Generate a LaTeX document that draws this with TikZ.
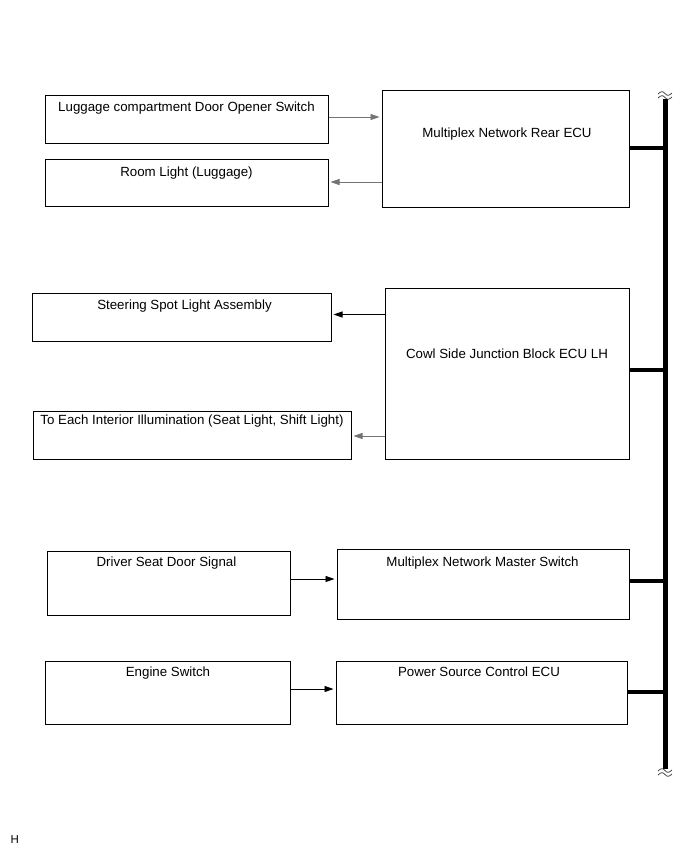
\documentclass[tikz,border=0pt]{standalone}
\usepackage{fontspec}
\setmainfont{Liberation Sans}
\usetikzlibrary{arrows.meta,calc}
\begin{document}
\begin{tikzpicture}[x=1pt,y=-1pt,
  box/.style={draw=black,line width=1pt,inner sep=0pt,fill=white},
  txt/.style={font=\fontsize{13.3}{15}\selectfont,inner sep=0pt,anchor=base},
  arr/.style={draw=black!55,line width=0.9pt,-{Triangle[length=9pt,width=6pt]},shorten >=2pt},
  arrk/.style={arr,draw=black,line width=0.9pt},
  bus/.style={line width=4.2pt,draw=black},
  squig/.style={line width=0.7pt,draw=black!80}]
\useasboundingbox[fill=white] (0,0) rectangle (691,855);
% boxes
\node[box,minimum width=283pt,minimum height=48pt] (lug) at (186.5,119) {};
\node[box,minimum width=283pt,minimum height=47pt] (room) at (186.5,182.5) {};
\node[box,minimum width=247pt,minimum height=117pt] (rear) at (505.5,148.5) {};
\node[box,minimum width=299pt,minimum height=48pt] (steer) at (181.5,317) {};
\node[box,minimum width=244pt,minimum height=171pt] (cowl) at (507,373.5) {};
\node[box,minimum width=318pt,minimum height=48pt] (inter) at (192,435) {};
\node[box,minimum width=243pt,minimum height=64pt] (driver) at (168.5,583) {};
\node[box,minimum width=292pt,minimum height=70pt] (master) at (483,584) {};
\node[box,minimum width=245pt,minimum height=63pt] (engine) at (167.5,692.5) {};
\node[box,minimum width=291pt,minimum height=63pt] (power) at (481.5,692.5) {};
% texts
\node[txt] (tlug) at (186.5,111.5) {Luggage compartment Door Opener Switch};
\node[txt] (troom) at (186.5,176) {Room Light (Luggage)};
\node[txt] (trear) at (507,137) {Multiplex Network Rear ECU};
\node[txt] (tsteer) at (184.5,309) {Steering Spot Light Assembly};
\node[txt] (tcowl) at (507,358) {Cowl Side Junction Block ECU LH};
\node[txt] (tinter) at (192,424) {To Each Interior Illumination (Seat Light, Shift Light)};
\node[txt] (tdriver) at (166.5,566) {Driver Seat Door Signal};
\node[txt] (tmaster) at (482.5,566) {Multiplex Network Master Switch};
\node[txt] (tengine) at (168,676) {Engine Switch};
\node[txt] (tpower) at (479,676) {Power Source Control ECU};
\node[font=\fontsize{11.5}{13}\selectfont,inner sep=0pt,anchor=base west] (hlbl) at (10.5,843) {H};
% connector coordinates
\coordinate (a1) at (lug.east |- 0,117);
\coordinate (a1e) at (rear.west |- 0,117);
\coordinate (a2) at (rear.west |- 0,182);
\coordinate (a2e) at (room.east |- 0,182);
\coordinate (a3) at (cowl.west |- 0,314.5);
\coordinate (a3e) at (steer.east |- 0,314.5);
\coordinate (a4) at (cowl.west |- 0,436);
\coordinate (a4e) at (inter.east |- 0,436);
\coordinate (a5) at (driver.east |- 0,579);
\coordinate (a5e) at (master.west |- 0,579);
\coordinate (a6) at (engine.east |- 0,689);
\coordinate (a6e) at (power.west |- 0,689);
\draw[arr] (a1) -- (a1e);
\draw[arr] (a2) -- (a2e);
\draw[arrk] (a3) -- (a3e);
\draw[arr] (a4) -- (a4e);
\draw[arrk] (a5) -- (a5e);
\draw[arrk] (a6) -- (a6e);
% bus
\coordinate (bustop) at (665.5,97);
\coordinate (busbot) at (665.5,771);
\draw[bus,line cap=butt] (bustop) -- (busbot);
\coordinate (b1) at (rear.east |- 0,148);
\coordinate (b2) at (cowl.east |- 0,370);
\coordinate (b3) at (master.east |- 0,581);
\coordinate (b4) at (power.east |- 0,692);
\draw[bus] (b1) -- (b1 -| bustop);
\draw[bus] (b2) -- (b2 -| bustop);
\draw[bus] (b3) -- (b3 -| bustop);
\draw[bus] (b4) -- (b4 -| bustop);
% break marks
\fill[white] (657,91) rectangle (674,99);
\draw[squig] (658,94) .. controls (661,91) and (663,91) .. (665,93.5) .. controls (667,96) and (669,96) .. (672,93);
\draw[squig] (658,98) .. controls (661,95) and (663,95) .. (665,97.5) .. controls (667,100) and (669,100) .. (672,97);
\fill[white] (657,769) rectangle (674,777);
\draw[squig] (658,771) .. controls (661,768) and (663,768) .. (665,770.5) .. controls (667,773) and (669,773) .. (672,770);
\draw[squig] (658,775) .. controls (661,772) and (663,772) .. (665,774.5) .. controls (667,777) and (669,777) .. (672,774);
\end{tikzpicture}
\end{document}
